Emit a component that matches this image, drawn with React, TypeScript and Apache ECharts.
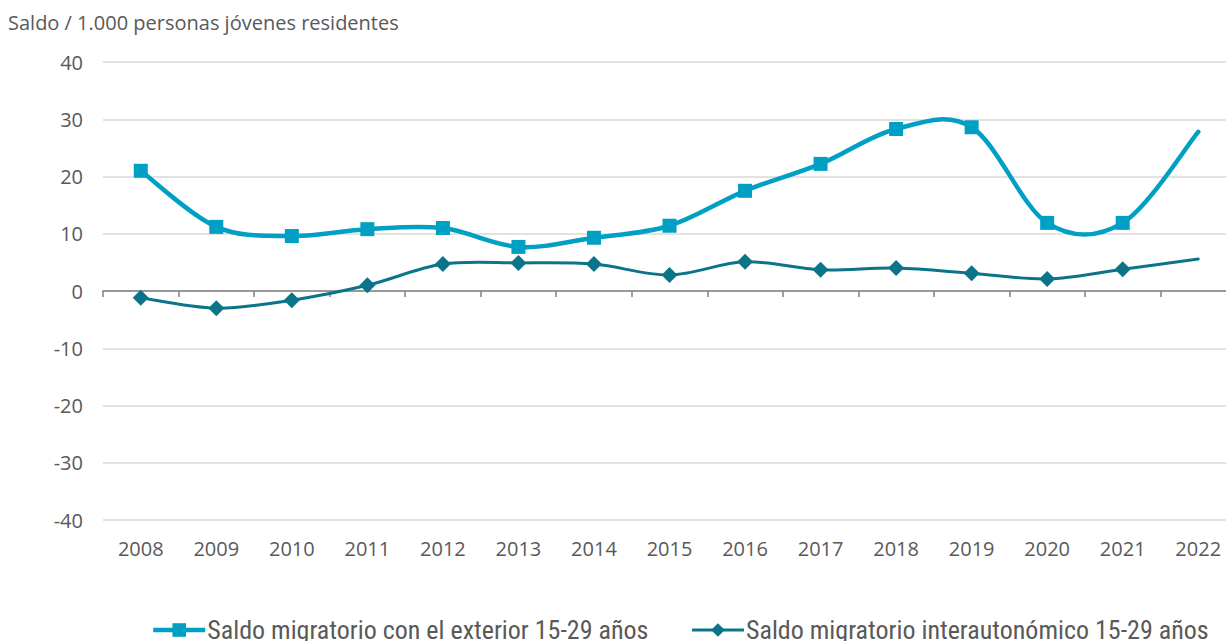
import React, { useEffect, useRef } from "react";
import * as echarts from "echarts";

const years = ["2008","2009","2010","2011","2012","2013","2014","2015","2016","2017","2018","2019","2020","2021","2022"];
const exterior = [21.0, 11.2, 9.6, 10.8, 11.0, 7.7, 9.3, 11.4, 17.5, 22.2, 28.3, 28.6, 11.9, 11.9, 27.8];
const interauto = [-1.2, -3.0, -1.6, 1.0, 4.7, 4.9, 4.7, 2.8, 5.1, 3.7, 4.0, 3.1, 2.1, 3.8, 5.6];
const yTicks = { min: -40, max: 40, interval: 10 };
const nameExterior = "Saldo migratorio con el exterior 15-29 años";
const nameInter = "Saldo migratorio interautonómico 15-29 años";
const yTitle = "Saldo / 1.000 personas jóvenes residentes";

const C1 = "#00A0C4";
const C2 = "#0C7488";
const TXT = "#595959";
const FONT = "'Open Sans', 'Noto Sans', sans-serif";
const LEGEND_FONT = "'Liberation Sans Narrow', 'Roboto Condensed', 'Noto Sans', sans-serif";

function withLastNoSymbol(arr: number[]) {
  return arr.map((v, i) => (i === arr.length - 1 ? { value: v, symbol: "none" } : v));
}

// Excel-like smoothed curve (Catmull-Rom as cubic Bezier), drawn through the axis scales
function curveSeries(values: number[], color: string, width: number, z: number) {
  return {
    type: "custom",
    name: "_curve_" + color,
    data: values.map((v, i) => [i, v]),
    z,
    silent: true,
    clip: false,
    renderItem: (params: any, api: any) => {
      if (params.dataIndex !== 0) return null;
      const pts = values.map((v, i) => api.coord([i, v]));
      const n = pts.length;
      const P = (k: number) => pts[Math.max(0, Math.min(n - 1, k))];
      let d = `M${pts[0][0]},${pts[0][1]}`;
      for (let i = 0; i < n - 1; i++) {
        const p0 = P(i - 1), p1 = P(i), p2 = P(i + 1), p3 = P(i + 2);
        const c1x = p1[0] + (p2[0] - p0[0]) / 6;
        const c1y = p1[1] + (p2[1] - p0[1]) / 6;
        const c2x = p2[0] - (p3[0] - p1[0]) / 6;
        const c2y = p2[1] - (p3[1] - p1[1]) / 6;
        d += ` C${c1x},${c1y} ${c2x},${c2y} ${p2[0]},${p2[1]}`;
      }
      return {
        type: "path",
        shape: { pathData: d },
        style: { fill: "none", stroke: color, lineWidth: width, lineCap: "round", lineJoin: "round" },
      };
    },
  };
}

export default function App() {
  const ref = useRef<HTMLDivElement>(null);
  useEffect(() => {
    if (!ref.current) return;
    const chart = echarts.init(ref.current, undefined, { renderer: "svg" });
    chart.setOption({
      animation: false,
      backgroundColor: "#ffffff",
      title: {
        text: yTitle,
        left: 3,
        top: 7,
        textStyle: { fontSize: 20, fontWeight: "normal", color: TXT, fontFamily: FONT },
      },
      legend: {
        left: 146,
        top: 612,
        itemWidth: 52,
        itemHeight: 17,
        itemGap: 42,
        textStyle: { fontSize: 26, color: TXT, fontFamily: LEGEND_FONT, padding: [0, 0, 0, -3] },
        data: [
          { name: nameExterior, lineStyle: { opacity: 1, width: 4.5, color: C1 } },
          { name: nameInter, lineStyle: { opacity: 1, width: 3, color: C2 } },
        ],
      },
      grid: { left: 103, right: 4, top: 62, bottom: 121, containLabel: false, outerBoundsMode: "none" },
      xAxis: {
        type: "category",
        data: years,
        boundaryGap: true,
        axisLine: { onZero: true, lineStyle: { color: "#808080", width: 1.5 } },
        axisTick: { show: true, length: 6, lineStyle: { color: "#808080", width: 1.5 } },
        axisLabel: { margin: 18, fontSize: 20, color: TXT, fontFamily: FONT },
        splitLine: { show: false },
      },
      yAxis: {
        type: "value",
        min: yTicks.min,
        max: yTicks.max,
        interval: yTicks.interval,
        axisLine: { show: false },
        axisTick: { show: false },
        axisLabel: { margin: 20, fontSize: 20, color: TXT, fontFamily: FONT },
        splitLine: { lineStyle: { color: "#D9D9D9", width: 1.5 } },
      },
      series: [
        curveSeries(interauto, C2, 3, 2),
        {
          name: nameInter,
          type: "line",
          data: withLastNoSymbol(interauto),
          symbol: "diamond",
          symbolSize: 16,
          showAllSymbol: true,
          lineStyle: { color: C2, width: 3, opacity: 0 },
          itemStyle: { color: C2 },
          z: 3,
        },
        curveSeries(exterior, C1, 4.5, 4),
        {
          name: nameExterior,
          type: "line",
          data: withLastNoSymbol(exterior),
          symbol: "rect",
          symbolSize: 14,
          showAllSymbol: true,
          lineStyle: { color: C1, width: 4.5, opacity: 0 },
          itemStyle: { color: C1 },
          z: 5,
        },
      ],
    });
    return () => chart.dispose();
  }, []);
  return (
    <div style={{ position: "fixed", left: 0, top: 0, width: 1226, height: 641, overflow: "hidden", background: "#fff" }}>
      <div ref={ref} style={{ width: 1240, height: 641 }} />
    </div>
  );
}
